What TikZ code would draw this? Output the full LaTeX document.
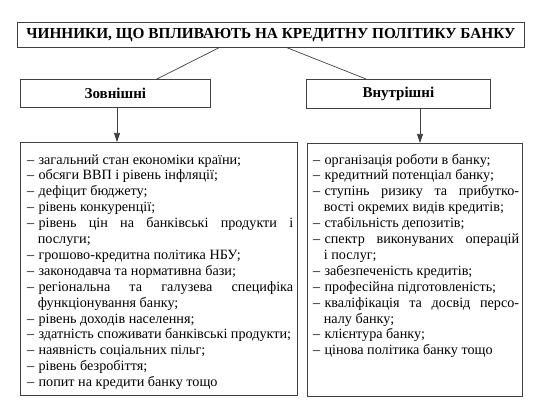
\documentclass[tikz,border=0pt]{standalone}
\usepackage{fontspec}
\setmainfont{Liberation Serif}
\usetikzlibrary{arrows.meta}
\tikzset{
  box/.style={draw=black!75, line width=0.7pt, inner sep=0pt},
  head/.style={box, font=\fontsize{15}{17}\selectfont\bfseries},
  listtext/.style={inner sep=0pt, anchor=north west, align=justify,
    font=\fontsize{14.2}{15.9}\selectfont},
  link/.style={draw=black!75, line width=0.7pt},
  arr/.style={link, -{Triangle[width=6pt,length=9pt]}}
}
\newcommand{\itm}[1]{\par\hangindent=0.75em\hangafter=1\noindent–\hskip0.3em\relax #1}
\begin{document}
\begin{tikzpicture}[x=1pt,y=1pt]
\useasboundingbox (0,0) rectangle (552,-403);
\node[box, anchor=north west, minimum width=507, minimum height=25,
  font=\fontsize{15.3}{17}\selectfont\bfseries] (title) at (17,-22)
  {ЧИННИКИ, ЩО ВПЛИВАЮТЬ НА КРЕДИТНУ ПОЛІТИКУ БАНКУ};
\node[head, anchor=north west, minimum width=190, minimum height=28] (ext) at (20,-79) {Зовнішні};
\node[head, anchor=north west, minimum width=184, minimum height=29] (int) at (306,-79) {Внутрішні};
\node[box, anchor=north west, minimum width=277, minimum height=253] (lbox) at (20,-142) {};
\node[box, anchor=north west, minimum width=215, minimum height=253] (rbox) at (307,-143) {};
\draw[link] (title.south -| 219,0) -- (ext.north -| 157,0);
\draw[link] (title.south -| 287,0) -- (int.north -| 366,0);
\draw[arr] (ext.south -| 117,0) -- (lbox.north -| 117,0);
\draw[arr] (int.south -| 420,0) -- (rbox.north -| 420,0);
\node[listtext, text width=266] (ltext) at ([xshift=7,yshift=-6]lbox.north west) {%
\hbadness=10000 \tolerance=9999
\itm{загальний стан економіки країни;}
\itm{обсяги ВВП і рівень інфляції;}
\itm{дефіцит бюджету;}
\itm{рівень конкуренції;}
\itm{рівень цін на банківські продукти і\linebreak послуги;}
\itm{грошово-кредитна політика НБУ;}
\itm{законодавча та нормативна бази;}
\itm{регіональна та галузева специфіка\linebreak функціонування банку;}
\itm{рівень доходів населення;}
\itm{здатність споживати банківські продукти;}
\itm{наявність соціальних пільг;}
\itm{рівень безробіття;}
\itm{попит на кредити банку тощо}};
\node[listtext, text width=206] (rtext) at ([xshift=6,yshift=-5]rbox.north west) {%
\hbadness=10000 \tolerance=9999
\itm{організація роботи в банку;}
\itm{кредитний потенціал банку;}
\itm{ступінь ризику та прибутко-\linebreak вості окремих видів кредитів;}
\itm{стабільність депозитів;}
\itm{спектр виконуваних операцій\linebreak і послуг;}
\itm{забезпеченість кредитів;}
\itm{професійна підготовленість;}
\itm{кваліфікація та досвід персо-\linebreak налу банку;}
\itm{клієнтура банку;}
\itm{цінова політика банку тощо}};
\end{tikzpicture}
\end{document}
